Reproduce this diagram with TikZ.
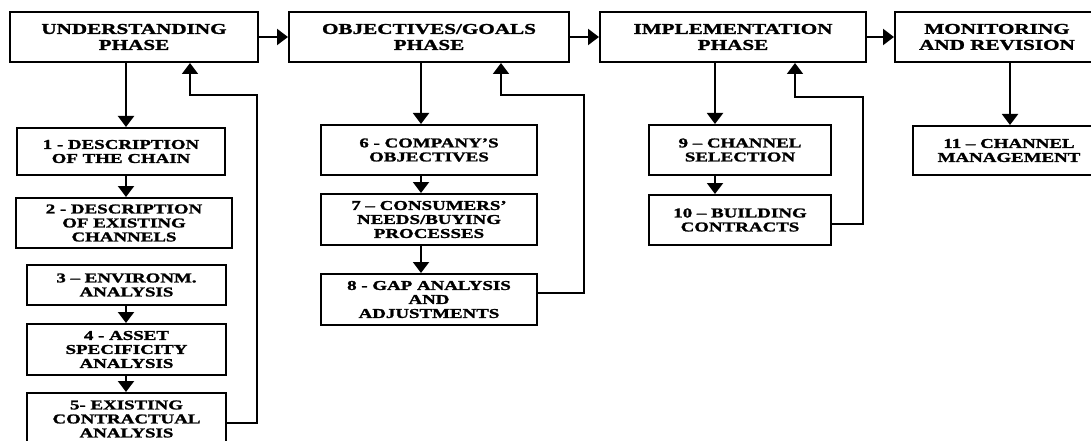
\documentclass[tikz,border=0pt]{standalone}
\usepackage{fontspec}
\newfontfamily\phasefont{Liberation Serif}[
  FakeStretch=1.41,
  BoldFeatures={FakeStretch=1.41,FakeBold=1.6}]
\newfontfamily\stagefont{Liberation Serif}[
  FakeStretch=1.40,
  BoldFeatures={FakeStretch=1.40,FakeBold=1.6}]
\usetikzlibrary{arrows.meta}
\begin{document}
\begin{tikzpicture}[x=1pt,y=-1pt,
  phasebox/.style={draw,line width=2pt,inner sep=0pt,align=center,
    font=\phasefont\fontsize{15}{16}\selectfont\bfseries},
  stagebox/.style={draw,line width=2pt,inner sep=0pt,align=center,
    font=\stagefont\fontsize{13.5}{14}\selectfont\bfseries},
  arr/.style={line width=2pt,-{Triangle[width=16pt,length=11pt]}},
  back/.style={line width=1.8pt,-{Triangle[width=16pt,length=11pt]}}]
\useasboundingbox (0,0) rectangle (1091,441);
\clip (0,0) rectangle (1091,441);

% phase boxes along the top
\node[phasebox,minimum width=248pt,minimum height=50pt] (U) at (134,37) {UNDERSTANDING\\PHASE};
\node[phasebox,minimum width=280pt,minimum height=50pt] (O) at (429,37) {OBJECTIVES/GOALS\\PHASE};
\node[phasebox,minimum width=266pt,minimum height=50pt] (I) at (733,37) {IMPLEMENTATION\\PHASE};
\node[phasebox,minimum width=204pt,minimum height=50pt] (M) at (997,37) {MONITORING\\AND REVISION};

% understanding column
\node[stagebox,minimum width=208pt,minimum height=47pt] (B1) at (121,151.5) {1 - DESCRIPTION\\OF THE CHAIN};
\node[stagebox,minimum width=216pt,minimum height=50pt] (B2) at (124,223) {2 - DESCRIPTION\\OF EXISTING\\CHANNELS};
\node[stagebox,minimum width=199pt,minimum height=40pt] (B3) at (126.5,285) {3 – ENVIRONM.\\ANALYSIS};
\node[stagebox,minimum width=199pt,minimum height=51pt] (B4) at (126.5,349.5) {4 - ASSET\\SPECIFICITY\\ANALYSIS};
\node[stagebox,minimum width=199pt,minimum height=52pt] (B5) at (126.5,419) {5- EXISTING\\CONTRACTUAL\\ANALYSIS};

% objectives column
\node[stagebox,minimum width=216pt,minimum height=50pt] (B6) at (429,150) {6 - COMPANY’S\\OBJECTIVES};
\node[stagebox,minimum width=216pt,minimum height=51pt] (B7) at (429,219.5) {7 – CONSUMERS’\\NEEDS/BUYING\\PROCESSES};
\node[stagebox,minimum width=216pt,minimum height=51pt] (B8) at (429,299.5) {8 - GAP ANALYSIS\\AND\\ADJUSTMENTS};

% implementation column
\node[stagebox,minimum width=182pt,minimum height=50pt] (B9) at (740,150) {9 – CHANNEL\\SELECTION};
\node[stagebox,minimum width=182pt,minimum height=50pt] (B10) at (740,220) {10 – BUILDING\\CONTRACTS};

% monitoring column
\node[stagebox,minimum width=192pt,minimum height=49pt] (B11) at (1009,150.5) {11 – CHANNEL\\MANAGEMENT};

% column axes and return-path corners
\coordinate (c1) at (126,0);
\coordinate (c2) at (421,0);
\coordinate (c3) at (715,0);
\coordinate (c4) at (1010,0);
\coordinate (a1) at (190,0);
\coordinate (a2) at (501,0);
\coordinate (a3) at (795,0);
\coordinate (r1) at (257,95);
\coordinate (r2) at (584,95);
\coordinate (r3) at (863,97);
\coordinate (s1) at (0,423);
\coordinate (s2) at (0,293);
\coordinate (s3) at (0,224);

% flow between phases
\draw[arr] (U.east) -- (O.west);
\draw[arr] (O.east) -- (I.west);
\draw[arr] (I.east) -- (M.west);

% phase to first stage, and stage to stage
\draw[arr] (U.south -| c1) -- (B1.north -| c1);
\draw[arr] (B1.south -| c1) -- (B2.north -| c1);
\draw[arr] (B3.south -| c1) -- (B4.north -| c1);
\draw[arr] (B4.south -| c1) -- (B5.north -| c1);

\draw[arr] (O.south -| c2) -- (B6.north -| c2);
\draw[arr] (B6.south -| c2) -- (B7.north -| c2);
\draw[arr] (B7.south -| c2) -- (B8.north -| c2);

\draw[arr] (I.south -| c3) -- (B9.north -| c3);
\draw[arr] (B9.south -| c3) -- (B10.north -| c3);

\draw[arr] (M.south -| c4) -- (B11.north -| c4);

% return paths back to each phase
\draw[back] (B5.east |- s1) -| (r1) -| (U.south -| a1);
\draw[back] (B8.east |- s2) -| (r2) -| (O.south -| a2);
\draw[back] (B10.east |- s3) -| (r3) -| (I.south -| a3);
\end{tikzpicture}
\end{document}
